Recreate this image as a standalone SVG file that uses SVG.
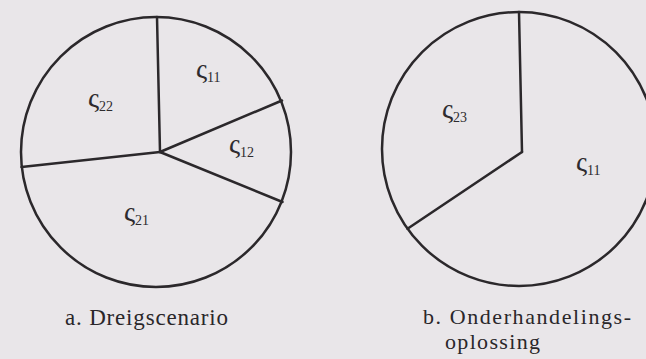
<svg xmlns="http://www.w3.org/2000/svg" width="646" height="359" viewBox="0 0 646 359">
  <style>
    .bg { fill: #e9e6e9; }
    .circ { fill: none; stroke: #2b282b; stroke-width: 2.5; }
    .div { fill: none; stroke: #2b282b; stroke-width: 2.5; stroke-linecap: round; }
    .lbl { font-family: "Liberation Serif", "DejaVu Serif", serif; font-size: 28px; fill: #2e2b2e; }
    .sub { font-size: 14px; }
    .cap { font-family: "Liberation Serif", "DejaVu Serif", serif; font-size: 23px; fill: #2a272a; }
    .capb { font-size: 22px; }
  </style>
  <rect class="bg" x="0" y="0" width="646" height="359"/>

  <g id="diagram-a">
    <circle class="circ" cx="156" cy="152" r="135"/>
  </g>
  <g id="connectors">
    <line class="div" x1="160" y1="152" x2="157" y2="17"/>
    <line class="div" x1="160" y1="152" x2="282" y2="100.5"/>
    <line class="div" x1="160" y1="152" x2="282.5" y2="202"/>
    <line class="div" x1="160" y1="152" x2="21.5" y2="167"/>
    <line class="div" x1="522" y1="152" x2="519" y2="12"/>
    <line class="div" x1="522" y1="152" x2="407.5" y2="228.7"/>
  </g>
  <g id="diagram-b">
    <circle class="circ" cx="519" cy="149" r="137"/>
  </g>

  <g id="label-a-s11"><text class="lbl" x="196" y="78">ς<tspan class="sub" dy="4">11</tspan></text></g>
  <g id="label-a-s22"><text class="lbl" x="88" y="107">ς<tspan class="sub" dy="4">22</tspan></text></g>
  <g id="label-a-s12"><text class="lbl" x="229" y="153">ς<tspan class="sub" dy="4">12</tspan></text></g>
  <g id="label-a-s21"><text class="lbl" x="124" y="221">ς<tspan class="sub" dy="4">21</tspan></text></g>
  <g id="label-b-s23"><text class="lbl" x="442" y="118">ς<tspan class="sub" dy="4">23</tspan></text></g>
  <g id="label-b-s11"><text class="lbl" x="576" y="171">ς<tspan class="sub" dy="4">11</tspan></text></g>

  <g id="caption-a"><text class="cap" x="65" y="325" textLength="163" lengthAdjust="spacing">a. Dreigscenario</text></g>
  <g id="caption-b">
    <text class="cap capb" x="423" y="324" textLength="208" lengthAdjust="spacing">b. Onderhandelings-</text>
    <text class="cap capb" x="445" y="349" textLength="95" lengthAdjust="spacing">oplossing</text>
  </g>
</svg>
